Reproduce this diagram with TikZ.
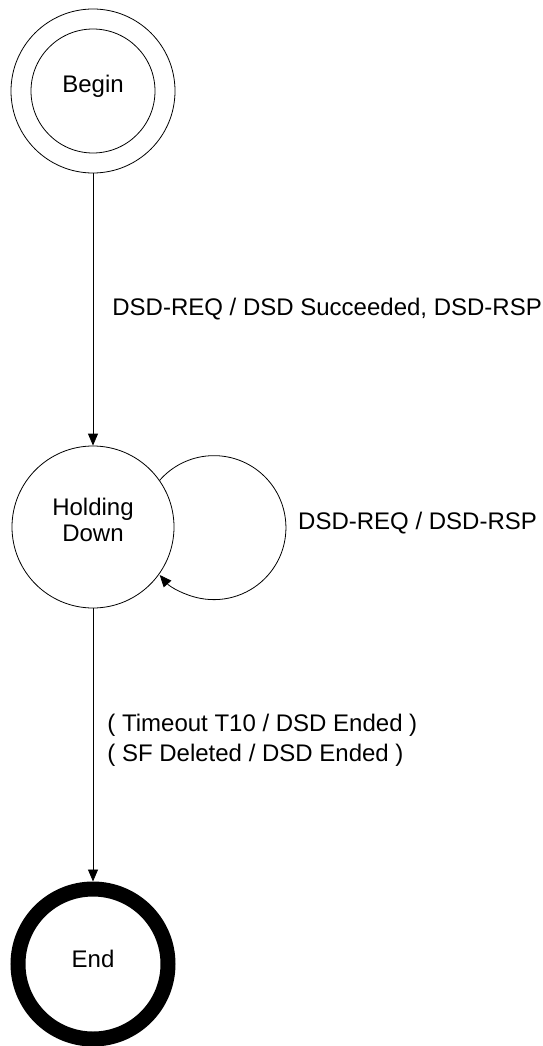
\documentclass[tikz,border=0pt]{standalone}
\usepackage{fontspec}
\setmainfont{Liberation Sans}
\usepackage{tikz}
\usetikzlibrary{positioning,arrows.meta}

\tikzset{
  state/.style={circle, draw, line width=0.8pt, inner sep=0pt},
  statetext/.style={inner sep=0pt, align=center, yshift=5pt, font=\fontsize{24}{26}\selectfont},
  trans/.style={line width=0.8pt, -{Triangle[length=12pt,width=10pt]}},
  lbl/.style={inner sep=0pt, anchor=west, align=left, font=\fontsize{24}{30}\selectfont}
}

\begin{document}
\begin{tikzpicture}[x=1pt,y=-1pt]

\useasboundingbox (0,0) rectangle (543,1046);

\node[state, minimum size=164pt, label={[statetext]center:Begin}](begin) at (93,91) {};
\draw[line width=0.8pt] (begin.center) circle (62pt);

\node[state, minimum size=162pt, label={[statetext, yshift=2pt]center:Holding\\Down}](holding) at (93,527) {};

\node[state, minimum size=150pt, line width=15pt, label={[statetext]center:End}](end) at (93,964) {};


\draw[trans] (begin) -- node[lbl, midway, xshift=19pt]{DSD-REQ / DSD Succeeded, DSD-RSP} (holding);

\draw[trans] (holding.35.8) arc[start angle=138.9, end angle=-138.9, radius=72pt];
\node[lbl](loopval) at (298,523) {DSD-REQ / DSD-RSP};

\draw[trans] (holding) -- node[lbl, midway, xshift=14pt, yshift=5pt]{( Timeout T10 / DSD Ended )\\( SF Deleted / DSD Ended )} (end);

\end{tikzpicture}
\end{document}
